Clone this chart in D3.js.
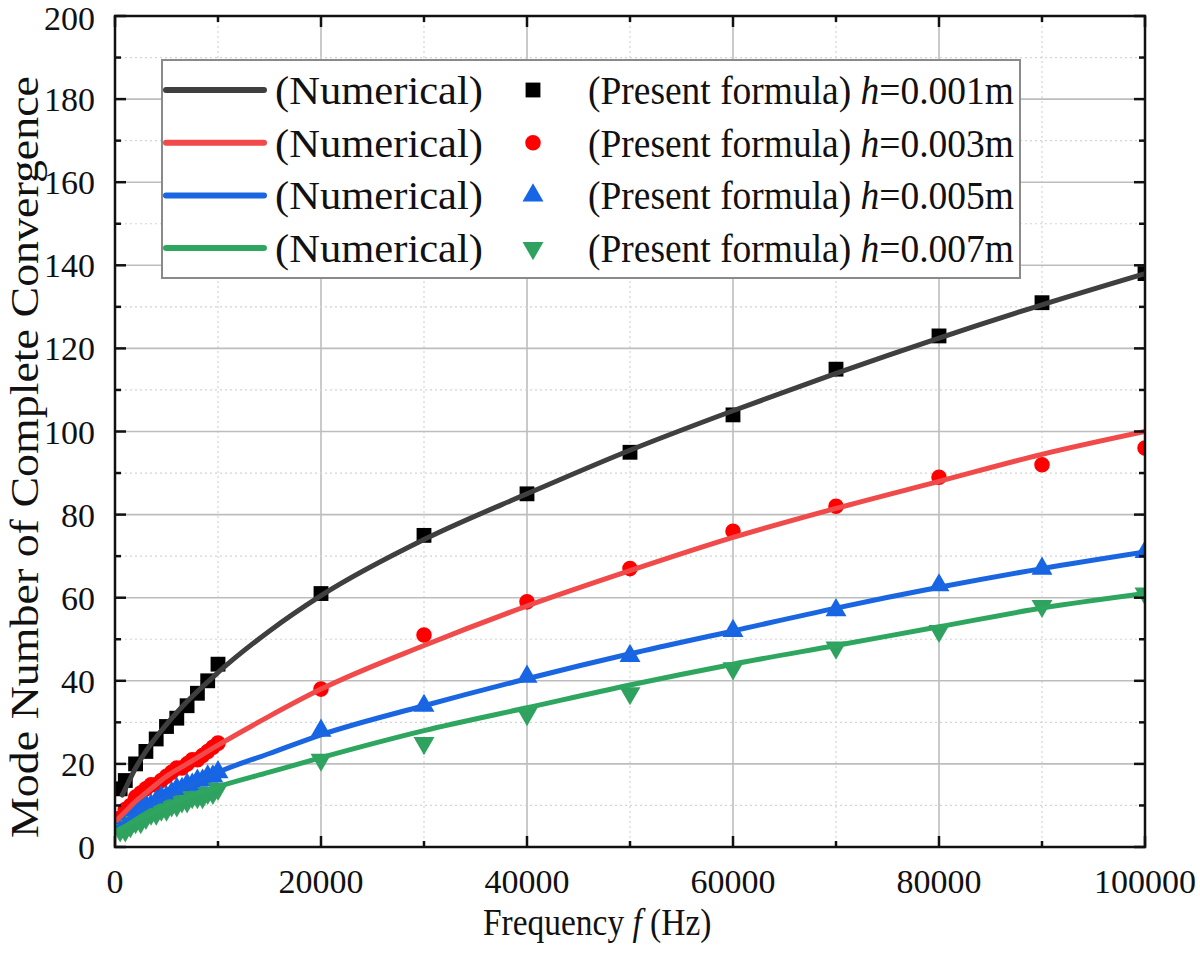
<!DOCTYPE html>
<html>
<head>
<meta charset="utf-8">
<script src="https://cdn.jsdelivr.net/npm/d3@7"></script>
<style>
  body { margin: 0; background: #fff; }
  text { font-family: "Liberation Serif", "Times New Roman", serif; fill: #111; }
</style>
</head>
<body>
<main></main>
<script>
// frequencies (Hz)
const lineFreq = [200, 1000, 2000, 3000, 5000, 7000, 10000, 15000, 20000, 30000, 40000, 50000, 60000, 70000, 80000, 90000, 100000];
const blackLineFreq = [700, 1000, 2000, 3000, 5000, 7000, 10000, 15000, 20000, 30000, 40000, 50000, 60000, 70000, 80000, 90000, 100000];
const lowFreq = [500, 1000, 1500, 2000, 2500, 3000, 3500, 4000, 4500, 5000, 5500, 6000, 6500, 7000, 7500, 8000, 8500, 9000, 9500, 10000];
const blackLowFreq = [500, 1000, 2000, 3000, 4000, 5000, 6000, 7000, 8000, 9000, 10000];
const highFreq = [20000, 30000, 40000, 50000, 60000, 70000, 80000, 90000, 100000];

// numerical curves
const numBlack = [12.5, 14, 19, 23, 29.5, 35, 42, 52, 60.5, 74, 85, 95.5, 105, 114, 122.5, 130.5, 138];
const numRed   = [6.5, 8.5, 11, 13, 17, 20, 24.5, 31.5, 38, 48.5, 58, 66.5, 74.5, 81.5, 88, 94.5, 100];
const numBlue  = [4.5, 6, 8, 9.5, 12, 14.5, 18, 22.5, 27, 34, 40.5, 46.5, 52, 57.5, 62.5, 67, 71];
const numGreen = [4, 5, 6.5, 7.5, 10, 12, 14.5, 18, 21.5, 28, 33.5, 39, 44, 48.5, 53, 57.5, 61];

// present formula points
const fmBlackLow = [14, 16, 20, 23, 26, 29, 31, 34, 37, 40, 44];
const fmBlackHigh = [61, 75, 85, 95, 104, 115, 123, 131, 138];
const fmRedLow = [7, 9, 10, 12, 13, 14, 15, 15, 16, 17, 18, 19, 19, 20, 21, 21, 22, 23, 24, 25];
const fmRedHigh = [38, 51, 59, 67, 76, 82, 89, 92, 96];
const fmBlueLow = [5, 6, 7, 8, 9, 10, 10, 11, 12, 12, 13, 14, 14, 15, 15, 16, 16, 17, 17, 18];
const fmBlueHigh = [28, 34, 41, 46, 52, 57, 63, 67, 71];
const fmGreenLow = [4, 4, 5, 6, 6, 7, 8, 8, 9, 9, 10, 10, 11, 11, 12, 12, 12, 13, 13, 14];
const fmGreenHigh = [21, 25, 32, 37, 43, 48, 52, 58, 61];

const xTicks = [0, 20000, 40000, 60000, 80000, 100000];
const yTicks = [0, 20, 40, 60, 80, 100, 120, 140, 160, 180, 200];
const heights = ["0.001", "0.003", "0.005", "0.007"];

const series = [
  { line: "#3f3f3f", mark: "#000000", shape: d3.symbolSquare, lf: blackLineFreq, num: numBlack, lowF: blackLowFreq, low: fmBlackLow, high: fmBlackHigh, rot: 0 },
  { line: "#f04a4a", mark: "#ff0000", shape: d3.symbolCircle, lf: lineFreq, num: numRed, lowF: lowFreq, low: fmRedLow, high: fmRedHigh, rot: 0 },
  { line: "#1a66e0", mark: "#1565e6", shape: d3.symbolTriangle, lf: lineFreq, num: numBlue, lowF: lowFreq, low: fmBlueLow, high: fmBlueHigh, rot: 0 },
  { line: "#2ea660", mark: "#2ea25e", shape: d3.symbolTriangle, lf: lineFreq, num: numGreen, lowF: lowFreq, low: fmGreenLow, high: fmGreenHigh, rot: 180 }
];
const symSize = [220, 190, 190, 190];

const W = 1200, H = 956;
const pLeft = 115, pRight = 1145, pTop = 16, pBottom = 847;

const svg = d3.select("main").append("svg")
              .attr("width", W).attr("height", H);

const x = d3.scaleLinear().domain([0, 100000]).range([pLeft, pRight]);
const y = d3.scaleLinear().domain([0, 200]).range([pBottom, pTop]);

// grid
const grid = svg.append("g");
d3.range(0, 100001, 10000).forEach((v, i) => {
  if (v === 0 || v === 100000) return;
  grid.append("line").attr("x1", x(v)).attr("x2", x(v)).attr("y1", pTop).attr("y2", pBottom)
      .attr("stroke", i % 2 ? "#d4d4d4" : "#bdbdbd").attr("stroke-width", i % 2 ? 1.2 : 1.6)
      .attr("stroke-dasharray", i % 2 ? "2,3" : null);
});
d3.range(0, 201, 10).forEach((v, i) => {
  if (v === 0 || v === 200) return;
  grid.append("line").attr("y1", y(v)).attr("y2", y(v)).attr("x1", pLeft).attr("x2", pRight)
      .attr("stroke", i % 2 ? "#d4d4d4" : "#bdbdbd").attr("stroke-width", i % 2 ? 1.2 : 1.6)
      .attr("stroke-dasharray", i % 2 ? "2,3" : null);
});

svg.append("clipPath").attr("id", "plot")
   .append("rect").attr("x", pLeft).attr("y", pTop).attr("width", pRight - pLeft).attr("height", pBottom - pTop);

const plot = svg.append("g").attr("clip-path", "url(#plot)");

const lineGen = d3.line().curve(d3.curveMonotoneX);

// markers first, numerical lines on top
series.forEach((s, k) => {
  const pts = s.lowF.map((f, i) => [f, s.low[i]]).concat(highFreq.map((f, i) => [f, s.high[i]]));
  plot.append("g").selectAll("path").data(pts).enter().append("path")
      .attr("d", d3.symbol().type(s.shape).size(symSize[k]))
      .attr("transform", d => `translate(${x(d[0])},${y(d[1])}) rotate(${s.rot})`)
      .attr("fill", s.mark);
});
series.forEach(s => {
  plot.append("path")
      .attr("d", lineGen(s.lf.map((f, i) => [x(f), y(s.num[i])])))
      .attr("fill", "none").attr("stroke", s.line).attr("stroke-width", 5).attr("stroke-linecap", "round");
});

// ticks inward on all four sides
const tickG = svg.append("g");
d3.range(0, 100001, 10000).forEach((v, i) => {
  const len = i % 2 ? 6 : 11;
  tickG.append("line").attr("x1", x(v)).attr("x2", x(v)).attr("y1", pBottom).attr("y2", pBottom - len);
  tickG.append("line").attr("x1", x(v)).attr("x2", x(v)).attr("y1", pTop).attr("y2", pTop + len);
});
d3.range(0, 201, 10).forEach((v, i) => {
  const len = i % 2 ? 6 : 11;
  tickG.append("line").attr("y1", y(v)).attr("y2", y(v)).attr("x1", pLeft).attr("x2", pLeft + len);
  tickG.append("line").attr("y1", y(v)).attr("y2", y(v)).attr("x1", pRight).attr("x2", pRight - len);
});
tickG.selectAll("line").attr("stroke", "#111").attr("stroke-width", 2.5);

svg.append("rect").attr("x", pLeft).attr("y", pTop).attr("width", pRight - pLeft).attr("height", pBottom - pTop)
   .attr("fill", "none").attr("stroke", "#111").attr("stroke-width", 2.5);

const labels = svg.append("g").style("font-size", "34px");
xTicks.forEach(v => {
  labels.append("text").attr("x", x(v)).attr("y", 893).attr("text-anchor", "middle").text(v);
});
yTicks.forEach(v => {
  labels.append("text").attr("x", 95).attr("y", Math.max(y(v) + 12, 30)).attr("text-anchor", "end").text(v);
});

// axis titles
const xt = svg.append("g").attr("transform", "translate(483,935) scale(0.88,1)")
              .append("text").style("font-size", "38px");
xt.append("tspan").text("Frequency ");
xt.append("tspan").style("font-style", "italic").text("f");
xt.append("tspan").text(" (Hz)");

svg.append("text").attr("transform", "translate(38,838) rotate(-90)")
   .style("font-size", "40px")
   .attr("textLength", 762).attr("lengthAdjust", "spacingAndGlyphs")
   .text("Mode Number of Complete Convergence");

// legend
const leg = svg.append("g");
leg.append("rect").attr("x", 162).attr("y", 60).attr("width", 858).attr("height", 218)
   .attr("fill", "#fff").attr("stroke", "#8a8a8a").attr("stroke-width", 2);
series.forEach((s, i) => {
  const cy = 90 + i * 52.7;
  leg.append("line").attr("x1", 166).attr("x2", 264).attr("y1", cy).attr("y2", cy)
     .attr("stroke", s.line).attr("stroke-width", 6).attr("stroke-linecap", "round");
  leg.append("text").attr("x", 275).attr("y", cy + 14).style("font-size", "41px")
     .attr("textLength", 208).attr("lengthAdjust", "spacingAndGlyphs").text("(Numerical)");
  leg.append("path").attr("d", d3.symbol().type(s.shape).size(symSize[i]))
     .attr("transform", `translate(533,${cy}) rotate(${s.rot})`).attr("fill", s.mark);
  const t = leg.append("g").attr("transform", `translate(588,${cy + 14}) scale(0.914,1)`)
               .append("text").style("font-size", "41px");
  t.append("tspan").text("(Present formula) ");
  t.append("tspan").style("font-style", "italic").text("h");
  t.append("tspan").text("=" + heights[i] + "m");
});
</script>
</body>
</html>
